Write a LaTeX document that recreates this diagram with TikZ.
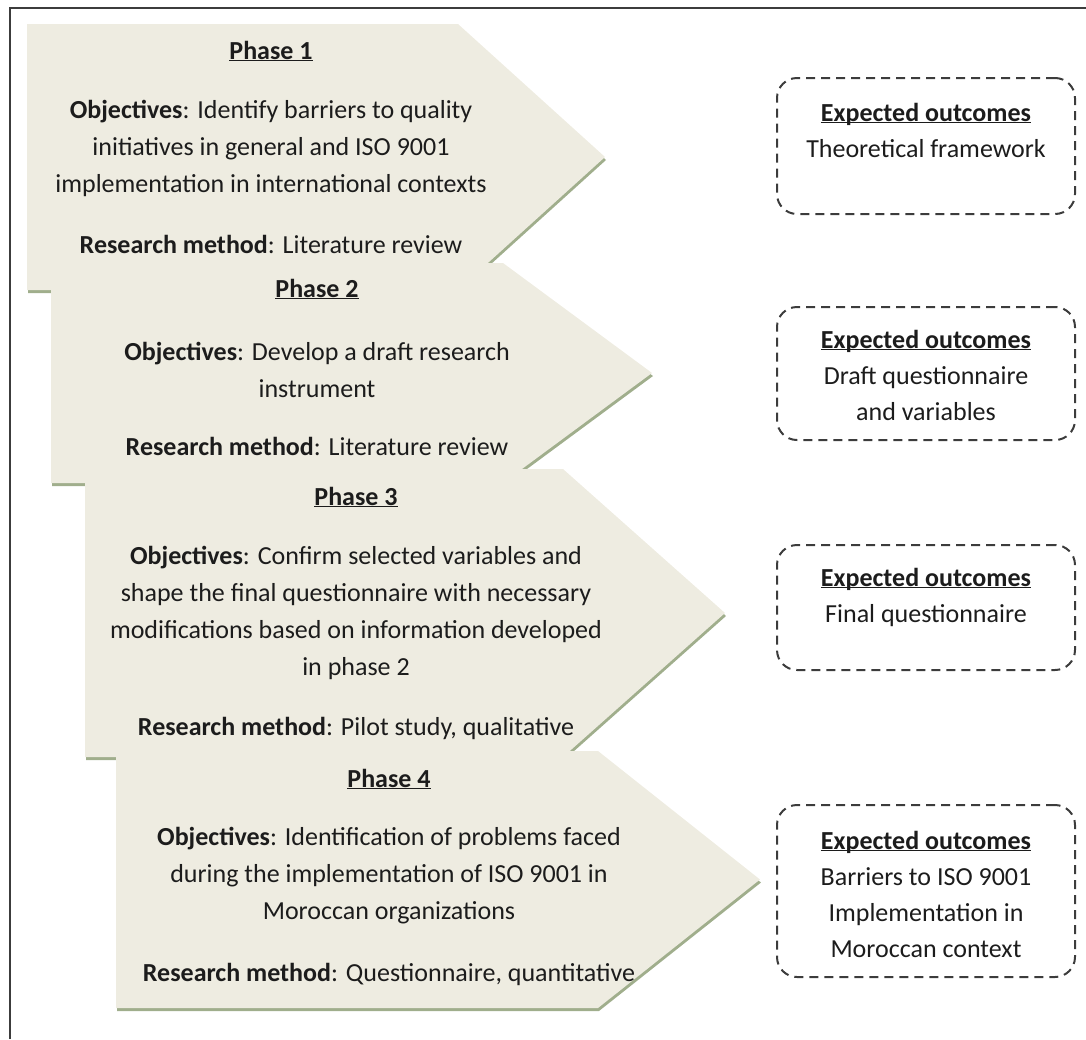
\documentclass[tikz,border=0pt]{standalone}
\usepackage{fontspec}
\setmainfont{Carlito}
\usetikzlibrary{positioning}
\definecolor{chevfill}{RGB}{238,236,225}
\definecolor{chevshade}{RGB}{160,174,140}
\definecolor{txtdark}{RGB}{28,28,28}
\definecolor{framegray}{RGB}{60,60,60}
\newcommand{\phul}[1]{\underline{\smash{#1}}}

\begin{document}
\begin{tikzpicture}[x=1pt, y=-1pt]
\tikzstyle{every node} = [inner sep=0pt, text=txtdark, font=\fontsize{26}{37}\selectfont, align=center, anchor=base]
\tikzstyle{outbox} = [draw=framegray, line width=2pt, dash pattern=on 9pt off 6pt, rounded corners=20pt, minimum width=298pt, anchor=center]
\tikzstyle{outtext} = [font=\fontsize{26}{36}\selectfont]
\useasboundingbox (0,0) rectangle (1086,1039);
\draw[framegray, line width=2pt] (10,1039) -- (10,8) -- (1086,8);
\foreach \l/\t/\b/\f/\p in {27/24/290/458/605, 51/263/483/503/652, 85/469/757/563/725, 116/751/1008/598/760} {
  \pgfmathsetmacro\m{(\t+\b)/2}
  \fill[chevshade, shift={(1,3)}] (\l,\t) -- (\f,\t) -- (\p,\m) -- (\f,\b) -- (\l,\b) -- cycle;
  \fill[chevfill] (\l,\t) -- (\f,\t) -- (\p,\m) -- (\f,\b) -- (\l,\b) -- cycle;
}
\node (ph1) at (271,59) {\textbf{\phul{Phase 1}}};
\node (ob1) at (271,192) {\textbf{Objectives}: Identify barriers to quality\\initiatives in general and ISO 9001\\implementation in international contexts};
\node (rm1) at (271,253) {\textbf{Research method}: Literature review};
\node (ph2) at (317,297) {\textbf{\phul{Phase 2}}};
\node (ob2) at (317,397) {\textbf{Objectives}: Develop a draft research\\instrument};
\node (rm2) at (317,455) {\textbf{Research method}: Literature review};
\node (ph3) at (356,505) {\textbf{\phul{Phase 3}}};
\node (ob3) at (356,675) {\textbf{Objectives}: Confirm selected variables and\\shape the final questionnaire with necessary\\modifications based on information developed\\in phase 2};
\node (rm3) at (356,735) {\textbf{Research method}: Pilot study, qualitative};
\node (ph4) at (389,787) {\textbf{\phul{Phase 4}}};
\node (ob4) at (389,919) {\textbf{Objectives}: Identification of problems faced\\during the implementation of ISO 9001 in\\Moroccan organizations};
\node (rm4) at (389,981) {\textbf{Research method}: Questionnaire, quantitative};
\node[outbox, minimum height=136pt] (ex1) at (926,146) {};
\node[outbox, minimum height=133pt] (ex2) at (926,373.5) {};
\node[outbox, minimum height=125pt] (ex3) at (926,607.5) {};
\node[outbox, minimum height=172pt] (ex4) at (926,891) {};
\node[outtext] (eo1) at (926,157) {\textbf{\phul{Expected outcomes}}\\Theoretical framework};
\node[outtext] (eo2) at (926,420) {\textbf{\phul{Expected outcomes}}\\Draft questionnaire\\and variables};
\node[outtext] (eo3) at (926,622) {\textbf{\phul{Expected outcomes}}\\Final questionnaire};
\node[outtext] (eo4) at (926,957) {\textbf{\phul{Expected outcomes}}\\Barriers to ISO 9001\\Implementation in\\Moroccan context};
\end{tikzpicture}
\end{document}
